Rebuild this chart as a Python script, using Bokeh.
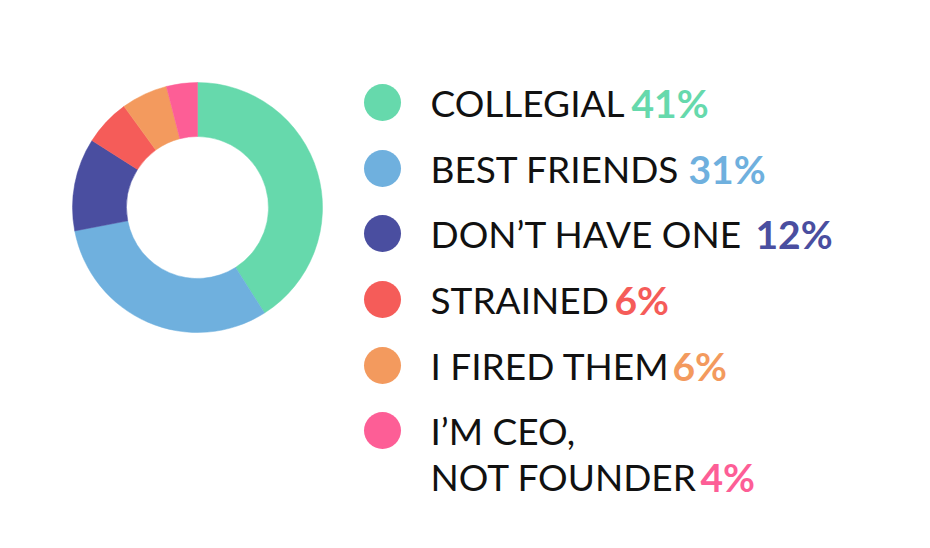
from math import pi
from bokeh.plotting import figure
from bokeh.models import Range1d, ColumnDataSource
from bokeh.core.properties import value
from bokeh.embed import file_html
from bokeh.resources import INLINE

categories = ["COLLEGIAL", "BEST FRIENDS", "DON\u2019T HAVE ONE", "STRAINED", "I FIRED THEM", "I\u2019M CEO,\nNOT FOUNDER"]
percent = [41, 31, 12, 6, 6, 4]
pct_labels = ["41%", "31%", "12%", "6%", "6%", "4%"]
colors = ["#66D9AC", "#6FB0DE", "#4A4EA0", "#F55C59", "#F39A5E", "#FD5E96"]

# layout (page pixels)
W, H = 914, 532
p = figure(width=W, height=H, output_backend="svg", toolbar_location=None,
           x_range=Range1d(0, W), y_range=Range1d(548 - H, 548), min_border=0)
p.axis.visible = False
p.grid.visible = False
p.outline_line_color = None
p.background_fill_color = "white"

def py(y):
    return 548 - y

total = sum(percent)
starts, ends = [], []
c = 0
for v in percent:
    starts.append(pi / 2 - 2 * pi * c / total)
    c += v
    ends.append(pi / 2 - 2 * pi * c / total)

src = ColumnDataSource(dict(start=starts, end=ends, color=colors))
p.annular_wedge(x=197, y=py(207), inner_radius=71, outer_radius=125,
                start_angle="start", end_angle="end", direction="clock",
                fill_color="color", line_color="color", line_width=0.5, source=src)

row_mid = [102, 168, 233, 299, 365, 430]
p.scatter(x=[382] * 6, y=[py(v) for v in row_mid], size=37, color=colors, line_color=None)

line_gap = 46
lab_x, lab_y, lab_t = [], [], []
pct_y = []
for lab, m in zip(categories, row_mid):
    lines = lab.split("\n")
    for i, ln in enumerate(lines):
        lab_x.append(430)
        lab_y.append(py(m + i * line_gap))
        lab_t.append(ln)
    pct_y.append(py(m + (len(lines) - 1) * line_gap))

p.text(x=lab_x, y=lab_y, text=lab_t, text_font=value("Lato"), text_font_size="37px",
       text_color="#111111", text_baseline="middle", text_align="left")

pct_x = [631, 688, 755, 614, 672, 700]
p.text(x=pct_x, y=pct_y, text=pct_labels, text_font=value("Lato"), text_font_size="39px",
       text_font_style="bold", text_color=colors, text_baseline="middle", text_align="left")

open("out.html", "w").write(file_html(p, INLINE))
